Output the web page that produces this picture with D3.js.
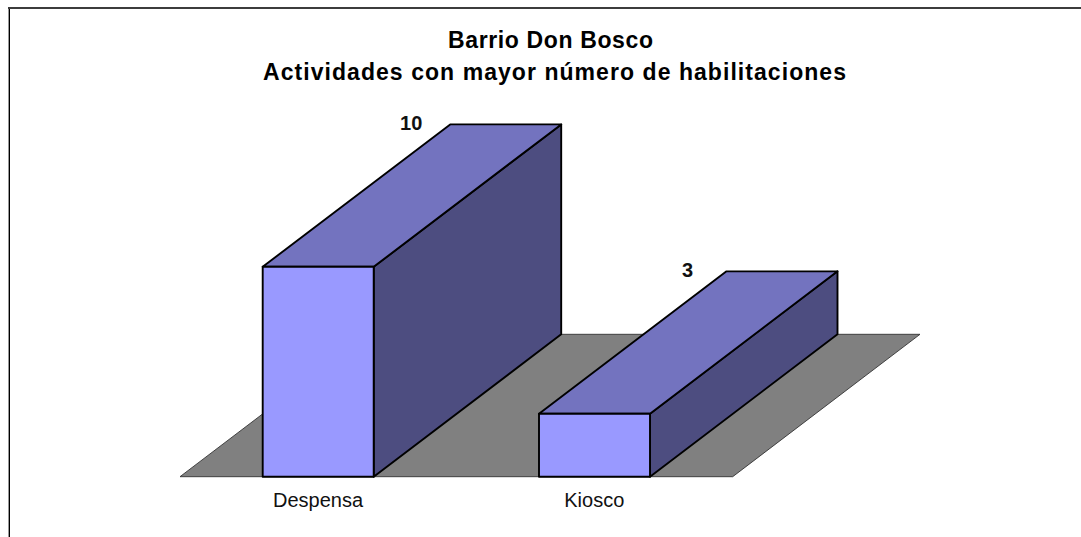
<!DOCTYPE html>
<html><head><meta charset="utf-8"><script src="https://cdn.jsdelivr.net/npm/d3@7"></script>
<style>html,body{margin:0;padding:0;background:#fff}svg{display:block}</style></head>
<body><script>
const categories = ["Despensa", "Kiosco"];
const seriesValues = [10, 3];
const titleLines = ["Barrio Don Bosco", "Actividades con mayor número de habilitaciones"];
const W = 1081, H = 537;
const font = "Liberation Sans, Arial, sans-serif";
const svg = d3.select("body").append("svg").attr("width", W).attr("height", H);
svg.append("path").attr("d","M8.5,537V8").attr("fill","none").attr("stroke","#999").attr("stroke-width",1);
svg.append("path").attr("d","M9.5,537V8").attr("fill","none").attr("stroke","#000").attr("stroke-width",1);
svg.append("path").attr("d","M8,8H1081").attr("fill","none").attr("stroke","#3c3c3c").attr("stroke-width",2);
const bw = 111;
const xs = d3.scalePoint().domain(categories).range([262.7, 539]);
const y = d3.scaleLinear().domain([0, 10]).range([476.7, 266.8]);
const dx = 187.5, dy = -142.4;
const floorPath = `M180,476.7L${180+dx},${476.7+dy}H920L732.7,476.7Z`;
svg.append("path").attr("d",floorPath).attr("fill","#808080").attr("stroke","none");
svg.append("path").attr("d",floorPath).attr("fill","none").attr("stroke","#333").attr("stroke-width",0.9);
const line = p => "M" + p.map(d=>d.join(",")).join("L") + "Z";
categories.forEach((c,i)=>{
  const x0 = xs(c), x1 = x0+bw, yt = y(seriesValues[i]), yb = y(0);
  const g = svg.append("g").attr("stroke","#000").attr("stroke-width",1.9).attr("stroke-linejoin","round");
  g.append("path").attr("d",line([[x1,yb],[x1,yt],[x1+dx,yt+dy],[x1+dx,yb+dy]])).attr("fill","#4d4d80");
  g.append("path").attr("d",line([[x0,yt],[x1,yt],[x1+dx,yt+dy],[x0+dx,yt+dy]])).attr("fill","#7373bf");
  g.append("path").attr("d",line([[x0,yb],[x1,yb],[x1,yt],[x0,yt]])).attr("fill","#9999ff");
  svg.append("text").attr("x",x0+55.3).attr("y",507).attr("text-anchor","middle").attr("font-family",font).attr("font-size",20).attr("fill","#111").text(c);
  svg.append("text").attr("x",x0+dx-39).attr("y",yt+dy+6).attr("text-anchor","middle").attr("font-family",font).attr("font-size",20).attr("font-weight","bold").attr("fill","#111").text(seriesValues[i]);
});
const titleX = [550.5, 554.5], titleY = [48, 80], titleW = [205, 583];
titleLines.forEach((t,i)=>svg.append("text").attr("x",titleX[i]).attr("y",titleY[i]).attr("text-anchor","middle").attr("font-family",font).attr("font-size",23).attr("font-weight","bold").attr("textLength",titleW[i]).attr("lengthAdjust","spacing").attr("fill","#000").text(t));
</script></body></html>
